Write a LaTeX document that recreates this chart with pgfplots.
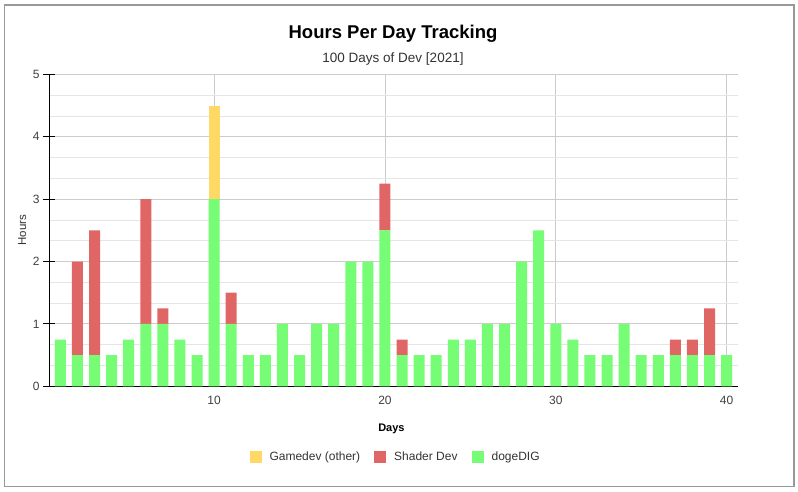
\documentclass[border=0pt]{standalone}
\usepackage{pgfplots}
\usepackage{pgfplotstable}
\pgfplotsset{compat=1.18}
\usepackage{fontspec}
\setmainfont{Liberation Sans}
\definecolor{cgreen}{HTML}{77FC76}
\definecolor{cred}{HTML}{E06666}
\definecolor{cyellow}{HTML}{FFD966}
\pgfplotstableread{
day dog shader game
1 0.75 0 0
2 0.5 1.5 0
3 0.5 2.0 0
4 0.5 0 0
5 0.75 0 0
6 1 2 0
7 1 0.25 0
8 0.75 0 0
9 0.5 0 0
10 3 0 1.5
11 1 0.5 0
12 0.5 0 0
13 0.5 0 0
14 1 0 0
15 0.5 0 0
16 1 0 0
17 1 0 0
18 2 0 0
19 2 0 0
20 2.5 0.75 0
21 0.5 0.25 0
22 0.5 0 0
23 0.5 0 0
24 0.75 0 0
25 0.75 0 0
26 1 0 0
27 1 0 0
28 2 0 0
29 2.5 0 0
30 1 0 0
31 0.75 0 0
32 0.5 0 0
33 0.5 0 0
34 1 0 0
35 0.5 0 0
36 0.5 0 0
37 0.5 0.25 0
38 0.5 0.25 0
39 0.5 0.75 0
40 0.5 0 0
}\datatable
\begin{document}
\begin{tikzpicture}[x=1pt,y=1pt]
\useasboundingbox (0,0) rectangle (798,491);
\fill[white] (0,0) rectangle (798,491);
\draw[black!40, line width=1.2pt] (4.5,4.5) rectangle (794,486);
\node[font=\bfseries\fontsize{18.5}{21}\selectfont] at (393,457) {Hours Per Day Tracking};
\node[font=\fontsize{13.5}{16}\selectfont, text=black!80] at (393,432) {100 Days of Dev [2021]};
\begin{axis}[
  at={(49pt,104.7pt)}, anchor=south west,
  scale only axis, width=689pt, height=312pt,
  ybar stacked, bar width=11pt,
  xmin=0.3333, xmax=40.6667, ymin=0, ymax=5,
  xtick={10,20,30,40}, ytick={0,1,2,3,4,5},
  minor y tick num=2,
  xmajorgrids, ymajorgrids, yminorgrids,
  major grid style={color=black!20, line width=0.9pt},
  minor grid style={color=black!10, line width=0.8pt},
  axis x line*=bottom, axis y line*=left,
  axis line style={black, line width=0.9pt, -},
  xtick style={draw=none},
  minor tick length=0pt,
  ytick style={black, line width=0.9pt},
  tick align=center, major tick length=12pt,
  tick label style={font=\fontsize{12}{14}\selectfont, text=black!75},
  /pgf/number format/assume math mode=true,
  ylabel={Hours},
  ylabel style={at={(axis description cs:-0.039,0.5)}, anchor=center, font=\fontsize{11.5}{14}\selectfont, text=black!80},
  xlabel={Days},
  xlabel style={at={(axis description cs:0.497,-0.137)}, anchor=center, font=\bfseries\fontsize{11}{14}\selectfont},
  legend style={at={(axis description cs:0.503,-0.225)}, anchor=center, draw=none, legend columns=3,
    font=\fontsize{12}{14}\selectfont, text=black!80,
    /tikz/every odd column/.append style={column sep=6pt},
    /tikz/every even column/.append style={column sep=12pt}},
  legend image code/.code={\fill[#1] (0pt,-6pt) rectangle (12pt,6pt);},
  reverse legend,
]
\addplot[fill=cgreen, draw=none] table[x=day, y=dog] {\datatable};
\addplot[fill=cred, draw=none] table[x=day, y=shader] {\datatable};
\addplot[fill=cyellow, draw=none] table[x=day, y=game] {\datatable};
\legend{dogeDIG, Shader Dev, Gamedev (other)}
\end{axis}
\end{tikzpicture}
\end{document}
